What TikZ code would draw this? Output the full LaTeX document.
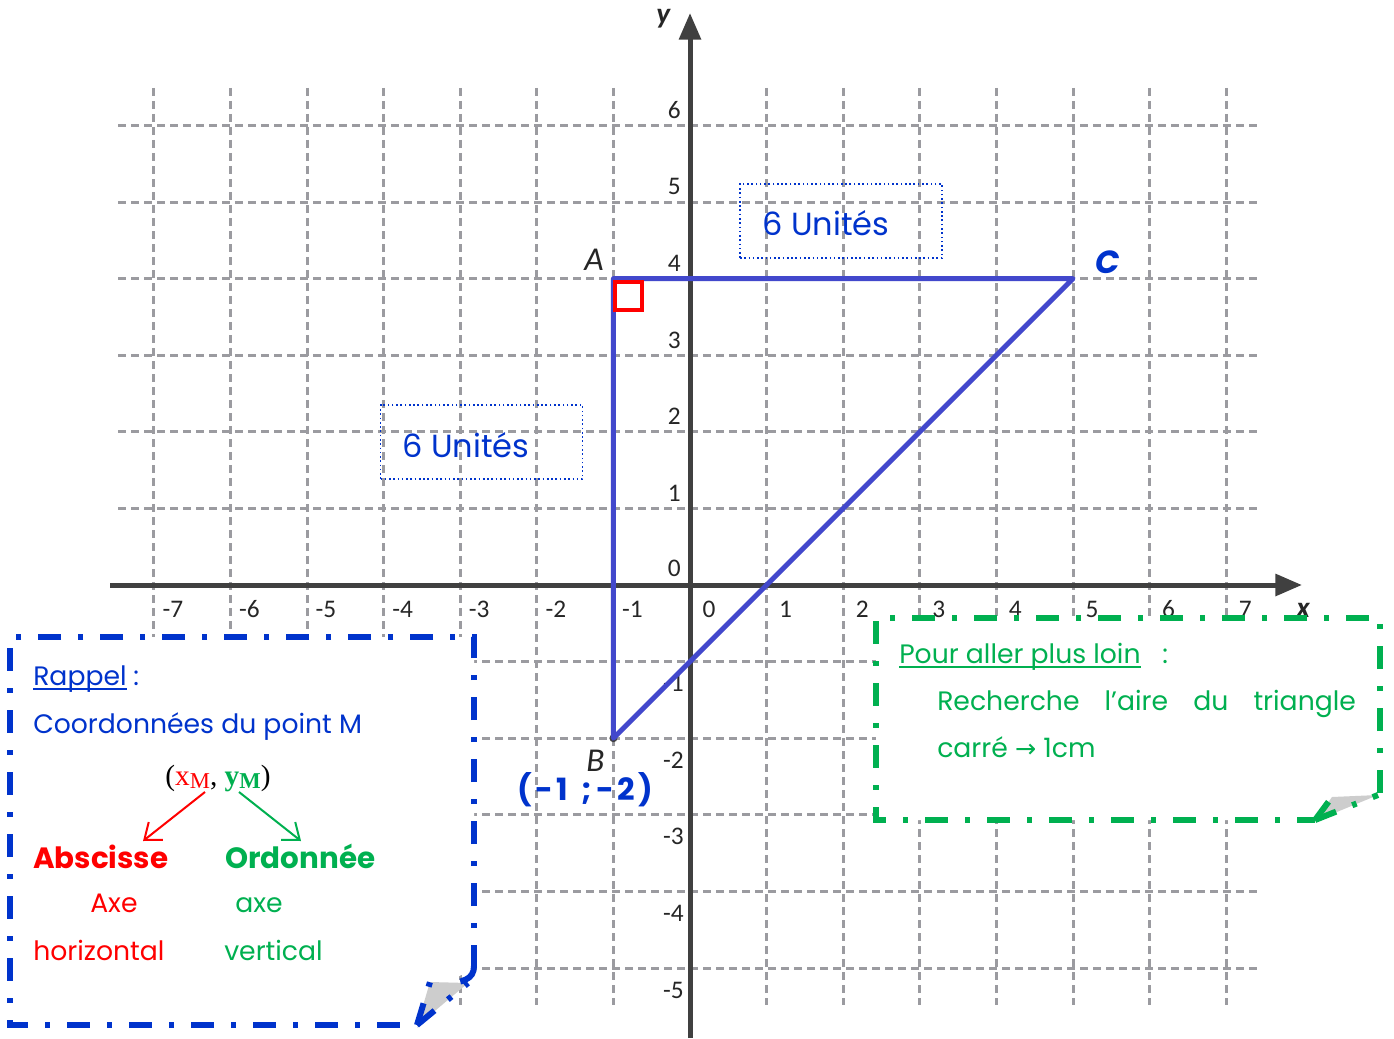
\documentclass[tikz,border=0pt]{standalone}
\usepackage{fontspec}
\setmainfont{Carlito}
\newfontfamily\handfont{Poppins}
\newfontfamily\seriffont{Liberation Serif}
\newfontfamily\symfont{DejaVu Sans}
\usetikzlibrary{arrows.meta}
\definecolor{gridgray}{RGB}{155,155,160}
\definecolor{axisgray}{RGB}{64,64,64}
\definecolor{triblue}{RGB}{66,72,204}
\definecolor{txtblue}{RGB}{0,51,204}
\definecolor{mygreen}{RGB}{0,176,80}
\definecolor{myred}{RGB}{255,0,0}
\definecolor{foldgray}{RGB}{205,205,205}
\begin{document}
\begin{tikzpicture}[x=0.75pt,y=-0.75pt,
 gridline/.style={draw=gridgray,line width=2.25pt,dash pattern=on 6pt off 3.75pt},
 axisline/.style={draw=axisgray,line width=3.75pt,-{Triangle[length=20pt,width=16pt]}},
 ticklbl/.style={font=\fontsize{19}{20}\selectfont,text=black!85,inner sep=0pt,anchor=base},
 tri/.style={draw=triblue,line width=3.75pt,line join=round,line cap=round},
 handtext/.style={font=\handfont\fontsize{20}{24}\selectfont,inner sep=0pt,anchor=base west},
 boldhand/.style={font=\handfont\bfseries\fontsize{22}{26}\selectfont,inner sep=0pt,anchor=base west},
 unitbox/.style={draw=txtblue,dotted,line width=1.2pt,minimum width=151.5pt,minimum height=55.5pt,inner sep=0pt},
 ddblue/.style={draw=txtblue,line width=4.5pt,dash pattern=on 17pt off 13pt on 3.5pt off 13pt},
 ddgreen/.style={draw=mygreen,line width=4.5pt,dash pattern=on 17pt off 13pt on 3.5pt off 13pt},
 foldfill/.style={fill=foldgray},
 pointlbl/.style={font=\itshape\fontsize{25}{28}\selectfont,inner sep=0pt,anchor=base west},
 smallarrow/.style={line width=1.5pt,-{Straight Barb[length=11pt,width=17pt,line width=1.5pt]}}
]
\fill[white] (0,0) rectangle (1394,1038);
\useasboundingbox (0,0) rectangle (1394,1038);

% grid
\foreach \i in {-7,...,-1,1,2,...,7}
  \draw[gridline] ({690+76.6*\i},88) -- ({690+76.6*\i},1005);
\foreach \j in {-5,...,-1,1,2,...,6}
  \draw[gridline] (118,{585-76.6*\j}) -- (1257,{585-76.6*\j});

% axes
\coordinate (xs) at (110,585);
\coordinate (xe) at (1302,585);
\coordinate (ys) at (690,1038);
\coordinate (ye) at (690,13);
\draw[axisline] (xs) -- (xe);
\draw[axisline] (ys) -- (ye);

% tick labels
\foreach \i in {-7,...,7}
  \node[ticklbl] (tx\i) at ({690+76.6*\i+19},617) {\i};
\foreach \j in {1,...,6}
  \node[ticklbl,anchor=base east] (ty\j) at (681,{585-76.6*\j-7}) {\j};
\node[ticklbl,anchor=base east] (ty0) at (681,576) {0};
\foreach \j in {-5,...,-1}
  \node[ticklbl,anchor=base east] (ty\j) at (684,{585-76.6*\j+30}) {\j};
\node[pointlbl,font=\itshape\bfseries\fontsize{22}{24}\selectfont,text=black!85] (xl) at (1296,617) {x};
\node[pointlbl,font=\itshape\bfseries\fontsize{22}{24}\selectfont,text=black!85] (yl) at (656,24) {y};

% unit boxes
\node[unitbox] (ub1) at (841,221) {};
\node[handtext,text=txtblue,font=\handfont\fontsize{24}{26}\selectfont] (ut1) at (762,235) {6 Unités};
\node[unitbox] (ub2) at (481.5,442) {};
\node[handtext,text=txtblue,font=\handfont\fontsize{24}{26}\selectfont] (ut2) at (402,457) {6 Unités};

% triangle
\coordinate (A) at (613.4,278.6);
\coordinate (B) at (613.4,738.2);
\coordinate (C) at (1073,278.6);
\fill[axisgray] (B) circle[radius=3pt];
\draw[tri] (A) -- (C) -- (B) -- cycle;
\draw[myred,line width=3pt] (614.5,282) rectangle (641.5,309.5);
\node[pointlbl,text=black!85] (Al) at (584,270) {A};
\node[pointlbl,text=black!85] (Bl) at (586,771) {B};
\node[handtext,text=txtblue,font=\handfont\bfseries\itshape\fontsize{24}{26}\selectfont] (Cl) at (1095,273) {C};
\node[handtext,text=txtblue,font=\handfont\bfseries\fontsize{23}{25}\selectfont] (Bc) at (517,800)
  {\hbox to 102pt{(\hfil-\hfil1\hfil\ \hfil;\hfil-\hfil2\hfil)}};

% left callout
\fill[white] (10,637) -- (474,637) -- (474,968) -- (445,984) -- (430,982) -- (417,1025) -- (10,1025) -- cycle;
\fill[foldfill] (430,982) -- (468,983) -- (417,1026) -- cycle;
\draw[ddblue] (474,968) -- (474,637) -- (10,637) -- (10,1025) -- (417,1025);
\draw[ddblue] (474,966) .. controls (474,980) and (462,982) .. (445,984);
\draw[ddblue] (417,1025) -- (430,982);
\draw[ddblue] (417,1025) -- (468,983);

\node[handtext,text=txtblue] (rap) at (33,685) {Rappel};
\draw[txtblue,line width=1.3pt] ([yshift=-3pt]rap.base west) -- ([yshift=-3pt]rap.base east);
\node[handtext,text=txtblue] (rapc) at (133,685) {:};
\node[handtext,text=txtblue] (coord) at (33,733) {Coordonnées du point M};
\node[inner sep=0pt,anchor=base,font=\seriffont\fontsize{22}{24}\selectfont] (xy) at (218,785)
  {(\textcolor{myred}{x\raisebox{-0.25ex}{\fontsize{17}{18}\selectfont M}},
   \textcolor{mygreen}{\bfseries y\raisebox{-0.25ex}{\fontsize{17}{18}\selectfont M}})};
\coordinate (ra1) at (205,792);
\coordinate (ra2) at (143,841);
\coordinate (ga1) at (239,792);
\coordinate (ga2) at (301,841);
\draw[smallarrow,myred] (ra1) -- (ra2);
\draw[smallarrow,mygreen] (ga1) -- (ga2);
\node[boldhand,text=myred] (absc) at (33,868) {Abscisse};
\node[boldhand,text=mygreen] (ordo) at (225,868) {Ordonnée};
\node[handtext,text=myred] (axe1) at (90,912) {Axe};
\node[handtext,text=mygreen] (axe2) at (235,912) {axe};
\node[handtext,text=myred] (hor) at (33,960) {horizontal};
\node[handtext,text=mygreen] (ver) at (224,960) {vertical};

% right callout
\fill[white] (876,618) -- (1380,618) -- (1380,793) -- (1332,797) -- (1315,820) -- (876,820) -- cycle;
\fill[foldfill] (1332,797) -- (1378,795) -- (1315,821) -- cycle;
\draw[ddgreen] (1380,793) -- (1380,618) -- (876,618) -- (876,820) -- (1315,820);
\draw[ddgreen] (1315,820) -- (1332,797);
\draw[ddgreen] (1315,820) -- (1378,795);

\node[handtext,text=mygreen] (pour) at (899,663) {Pour aller plus loin};
\draw[mygreen,line width=1.3pt] ([yshift=-3pt]pour.base west) -- ([yshift=-3pt]pour.base east);
\node[handtext,text=mygreen] (pourc) at (1162,663) {:};
\node[handtext,text=mygreen] (rech) at (937,710) {\hbox to 314pt{Recherche\hfill l’aire\hfill du\hfill triangle}};
\node[handtext,text=mygreen] (carre) at (937,757) {carré\ {\symfont\fontsize{19}{20}\selectfont →}\ 1cm};
\end{tikzpicture}
\end{document}
